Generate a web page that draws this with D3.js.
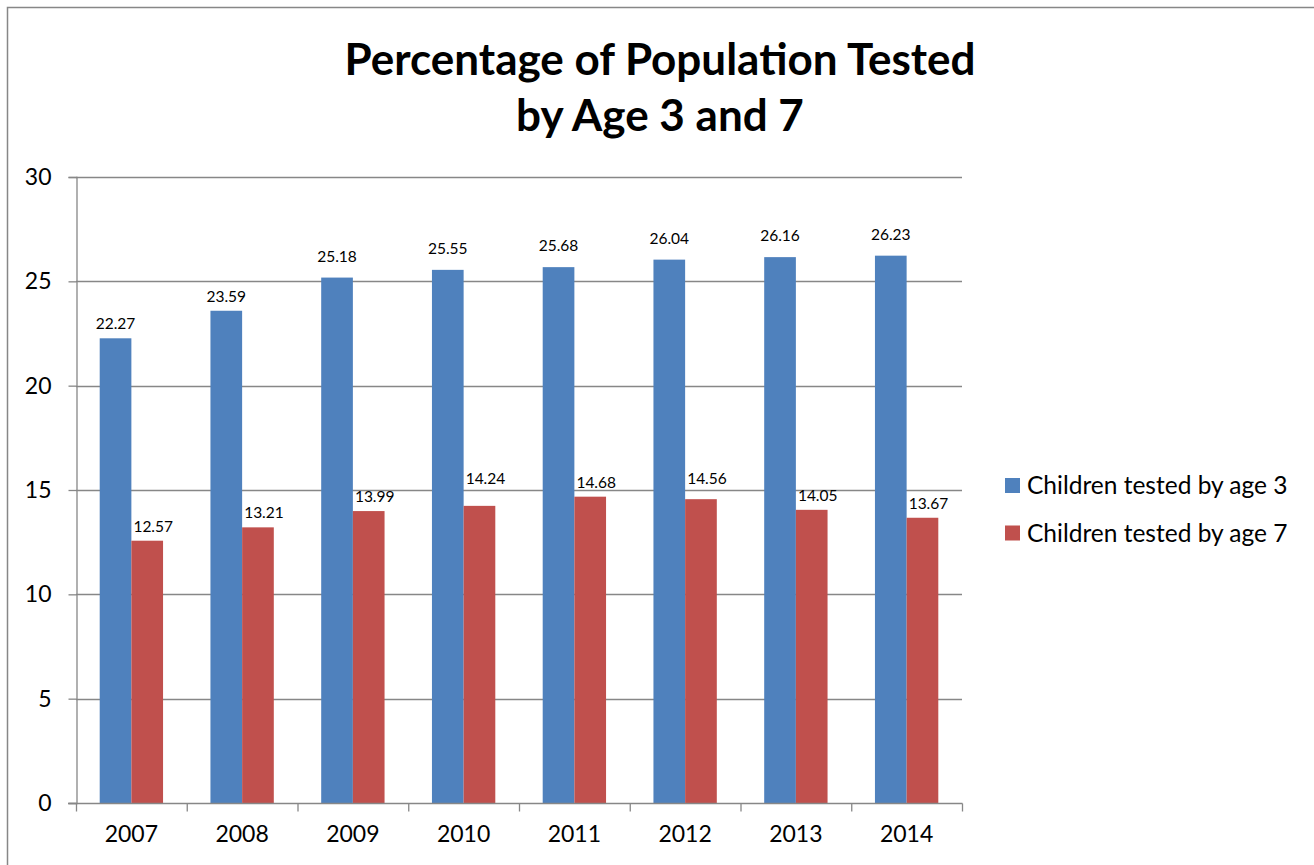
<!DOCTYPE html>
<html>
<head>
<meta charset="utf-8">
<script src="https://cdn.jsdelivr.net/npm/d3@7/dist/d3.min.js"></script>
<style>
  html, body { margin: 0; padding: 0; background: #fff; }
  svg { display: block; }
  text { font-family: Lato, "Open Sans", sans-serif; fill: #000; }
</style>
</head>
<body>
<svg id="chart" width="1314" height="865"></svg>
<script>
// Chart data
const years = ["2007", "2008", "2009", "2010", "2011", "2012", "2013", "2014"];
const age3 = [22.27, 23.59, 25.18, 25.55, 25.68, 26.04, 26.16, 26.23];
const age7 = [12.57, 13.21, 13.99, 14.24, 14.68, 14.56, 14.05, 13.67];
const seriesNames = ["Children tested by age 3", "Children tested by age 7"];
const seriesColors = ["#4F81BD", "#C0504D"];
const yTicks = [0, 5, 10, 15, 20, 25, 30];
const titleLines = ["Percentage of Population Tested", "by Age 3 and 7"];

const svg = d3.select("#chart");

// outer chart frame
svg.append("rect")
  .attr("x", 7.5).attr("y", 7.5)
  .attr("width", 1330).attr("height", 880)
  .attr("fill", "#fff")
  .attr("stroke", "#878787").attr("stroke-width", 1.5);

const plot = { left: 76, right: 962, top: 177, bottom: 803 };

const x = d3.scaleBand().domain(years).range([plot.left, plot.right]).paddingInner(0).paddingOuter(0);
const groupPad = 0.214; // gap on each side of a pair of bars, as fraction of band
const xs = d3.scaleBand().domain([0, 1])
  .range([0, x.bandwidth()])
  .paddingInner(0)
  .paddingOuter(groupPad / (1 - 2 * groupPad) * 2);
const y = d3.scaleLinear().domain([0, 30]).range([plot.bottom, plot.top]);

const gridColor = "#878787";

// horizontal gridlines
svg.append("g")
  .selectAll("line")
  .data(yTicks.filter(d => d > 0))
  .join("line")
  .attr("x1", plot.left).attr("x2", plot.right)
  .attr("y1", d => Math.round(y(d)) + 0.5).attr("y2", d => Math.round(y(d)) + 0.5)
  .attr("stroke", gridColor).attr("stroke-width", 1.3);

// y axis
const yAxis = d3.axisLeft(y).tickValues(yTicks).tickSize(8).tickPadding(17).tickFormat(d3.format("d"));
const gy = svg.append("g").attr("transform", `translate(${plot.left + 0.5},0)`).call(yAxis);
gy.select(".domain").attr("stroke", gridColor).attr("stroke-width", 1.3);
gy.selectAll(".tick line").attr("stroke", gridColor).attr("stroke-width", 1.3);
gy.selectAll(".tick text").attr("font-size", 23).attr("font-family", "Lato, sans-serif").attr("fill", "#000");

// bars
const series = [age3, age7];
const barGroups = svg.append("g");
series.forEach((vals, si) => {
  barGroups.append("g")
    .selectAll("rect")
    .data(vals.map((v, i) => ({ v, year: years[i] })))
    .join("rect")
    .attr("x", d => x(d.year) + xs(si))
    .attr("width", xs.bandwidth())
    .attr("y", d => y(d.v))
    .attr("height", d => y(0) - y(d.v))
    .attr("fill", seriesColors[si]);
});

// x axis
const xAxis = d3.axisBottom(x).tickSize(0).tickPadding(22);
const gx = svg.append("g").attr("transform", `translate(0,${plot.bottom + 0.5})`).call(xAxis);
gx.select(".domain").remove();
gx.append("line").attr("x1", plot.left - 8).attr("x2", plot.right + 0.5)
  .attr("stroke", gridColor).attr("stroke-width", 1.3);
gx.selectAll(".tick text").attr("font-size", 23).attr("font-family", "Lato, sans-serif").attr("fill", "#000");
// category separators
gx.selectAll(".sep")
  .data(years.concat(["end"]))
  .join("line")
  .attr("class", "sep")
  .attr("x1", (d, i) => (i < years.length ? x(d) : plot.right) + 0.5)
  .attr("x2", (d, i) => (i < years.length ? x(d) : plot.right) + 0.5)
  .attr("y1", 0).attr("y2", 8)
  .attr("stroke", gridColor).attr("stroke-width", 1.3);

// value labels: sit above the bar; a label that would be cut by a gridline is lifted above it,
// and a bar whose top has just passed a gridline gets a little extra clearance
const labelShift = [0, 6];
const gridYs = yTicks.filter(d => d > 0).map(d => y(d));
function labelBaseline(v) {
  const top = y(v);
  let b = top - 9;
  if (gridYs.some(g => g > top && g - top < 30)) b = top - 16;
  for (const g of gridYs) {
    if (b > g && b - 9 < g) b = g - 6;
  }
  return b;
}
series.forEach((vals, si) => {
  svg.append("g")
    .selectAll("text")
    .data(vals.map((v, i) => ({ v, year: years[i] })))
    .join("text")
    .attr("x", d => x(d.year) + xs(si) + xs.bandwidth() / 2 + labelShift[si])
    .attr("y", d => labelBaseline(d.v))
    .attr("text-anchor", "middle")
    .attr("font-size", 15.5)
    .text(d => d.v.toFixed(2));
});

// title
svg.append("g")
  .selectAll("text")
  .data(titleLines)
  .join("text")
  .attr("x", 660)
  .attr("y", (d, i) => 75 + i * 56)
  .attr("text-anchor", "middle")
  .attr("font-size", 44)
  .attr("font-weight", "bold")
  .text(d => d);

// legend
const legend = svg.append("g").attr("transform", "translate(1005,478)");
seriesNames.forEach((name, i) => {
  const g = legend.append("g").attr("transform", `translate(0,${i * 47.5})`);
  g.append("rect").attr("width", 15).attr("height", 15).attr("fill", seriesColors[i]);
  g.append("text").attr("x", 22).attr("y", 16).attr("font-size", 24.5).text(name);
});
</script>
</body>
</html>
